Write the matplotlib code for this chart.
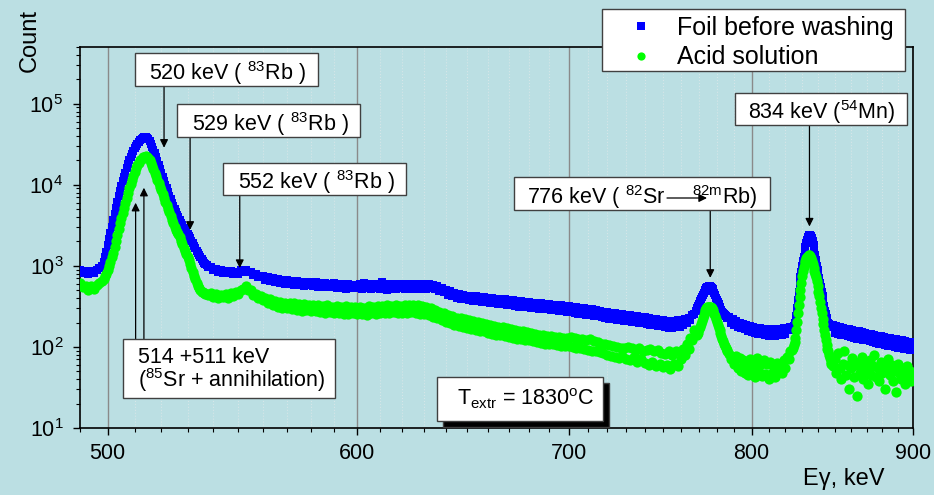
import numpy as np
import matplotlib
matplotlib.use('Agg')
import matplotlib.pyplot as plt
from matplotlib import ticker
from matplotlib.patches import Rectangle, FancyArrowPatch

plt.rcParams['font.family'] = ['Liberation Sans', 'DejaVu Sans']
plt.rcParams['mathtext.fontset'] = 'custom'
plt.rcParams['mathtext.rm'] = 'Liberation Sans'
plt.rcParams['mathtext.it'] = 'Liberation Sans:italic'
plt.rcParams['mathtext.bf'] = 'Liberation Sans:bold'

# gamma spectrum, counts
# 1 keV steps on the flat parts, 0.5 keV steps across the peaks
e_a = np.arange(490, 498)            # 490-497
e_b = np.arange(498, 538.5, 0.5)     # 498-538  (514 keV peak)
e_c = np.arange(539, 768)            # 539-767
e_d = np.arange(768, 786.5, 0.5)     # 768-786  (776 keV peak)
e_e = np.arange(787, 824)            # 787-823
e_f = np.arange(824, 848.5, 0.5)     # 824-848  (834 keV peak)
e_g = np.arange(849, 901)            # 849-900

foil_a = [890, 810, 865, 800, 870, 810, 880, 930]
foil_b = [
    1000, 1100, 1300, 1500, 1800, 2150, 2550, 3050, 3650, 4350,
    5200, 6100, 7200, 8400, 9700, 11000, 12500, 14000, 16000, 18000,
    20000, 22000, 24000, 26000, 28000, 30000, 32000, 34000, 35500, 37000,
    38000, 38500, 38500, 38000, 36500, 34500, 32000, 29500, 27000, 24500,
    22000, 19500, 17500, 15500, 14000, 12500, 11200, 10000, 9000, 8100,
    7300, 6600, 6000, 5450, 5000, 4600, 4250, 3950, 3650, 3400,
    3150, 2950, 2780, 2620, 2470, 2320, 2180, 2040, 1900, 1770,
    1650, 1540, 1440, 1350, 1270, 1200, 1140, 1090, 1050, 1010,
    980]
foil_c = [
    980, 900, 920, 850, 895, 820, 875, 810, 855, 790, 840,      # 539-549
    800, 880, 830, 900, 830, 840, 770, 790, 720, 745,           # 550-559
    740, 670, 720, 650, 700, 625, 685, 615, 670, 605,
    670, 595, 655, 585, 645, 575, 640, 570, 630, 580,
    640, 565, 625, 555, 620, 550, 615, 545, 605, 555,
    610, 540, 600, 530, 595, 525, 590, 540, 560, 585,
    530, 595, 520, 615, 535, 600, 515, 590, 530, 595,           # 600-609
    520, 625, 535, 510, 595, 525, 600, 520, 590, 530,
    600, 520, 595, 530, 605, 525, 590, 520, 600, 535,
    595, 525, 590, 530, 580, 515, 565, 490, 535, 470,
    505, 440, 485, 425, 465, 405, 450, 390, 440, 385,
    430, 375, 425, 370, 420, 365, 415, 360, 410, 355,           # 650-659
    405, 350, 400, 345, 395, 340, 390, 335, 385, 330,
    380, 325, 375, 320, 370, 315, 365, 312, 360, 308,
    358, 305, 352, 300, 348, 296, 344, 292, 340, 290,
    335, 286, 332, 282, 328, 278, 325, 275, 320, 272,
    318, 268, 314, 264, 310, 258, 305, 255, 300, 250,           # 700-709
    295, 246, 290, 242, 282, 238, 276, 232, 270, 228,
    268, 224, 264, 220, 260, 217, 256, 214, 253, 211,
    250, 208, 246, 205, 242, 202, 238, 198, 235, 195,
    232, 192, 228, 188, 224, 185, 220, 182, 216, 180,
    212, 176, 210, 172, 208, 170, 210, 174, 212, 178,           # 750-759
    215, 185, 220, 195, 228, 215, 245, 255]                     # 760-767
foil_d = [
    275, 285, 300, 320, 340, 365, 390, 415, 440, 465,
    490, 510, 530, 545, 555, 560, 560, 555, 540, 520,
    495, 465, 435, 405, 380, 355, 335, 315, 300, 285,
    272, 262, 252, 245, 238, 232, 226]
foil_e = [
    235, 200, 220, 188, 208, 178, 198, 170, 192, 165,
    186, 158, 180, 152, 176, 148, 172, 145, 170, 143,
    168, 140, 166, 138, 165, 137, 164, 138, 166, 140,
    168, 142, 170, 146, 172, 160, 178]
foil_f = [
    172, 175, 180, 188, 200, 240, 300, 380, 480, 590,
    720, 850, 1000, 1150, 1300, 1500, 1700, 1900, 2100, 2250,
    2350, 2420, 2400, 2320, 2200, 2000, 1800, 1570, 1350, 1170,
    1000, 900, 800, 710, 620, 550, 480, 420, 370, 320,
    280, 255, 230, 215, 200, 192, 185, 180, 175]
foil_g = [
    185, 150, 180, 146, 176, 142, 172, 139, 168, 136,
    165, 133, 162, 130, 158, 127, 155, 124, 152, 122,
    149, 120, 146, 118, 143, 115, 140, 113, 137, 110,
    135, 108, 132, 106, 130, 104, 128, 102, 126, 100,
    124, 98, 122, 96, 120, 95, 118, 94, 116, 92,
    114, 96]

acid_a = [620, 555, 560, 505, 565, 515, 585, 620]
acid_b = [
    650, 690, 740, 800, 880, 990, 1120, 1280, 1450, 1700,
    2000, 2400, 2850, 3350, 3900, 4500, 5200, 6000, 6900, 7900,
    9000, 10200, 11500, 12900, 14400, 15900, 17400, 18800, 20000, 21000,
    21800, 22300, 22500, 22200, 21300, 20000, 18700, 17100, 15500, 14000,
    12700, 11600, 10500, 9500, 8600, 7700, 6900, 6200, 5600, 5050,
    4550, 4100, 3700, 3350, 3050, 2800, 2600, 2450, 2250, 2050,
    1850, 1680, 1530, 1400, 1290, 1170, 1050, 940, 840, 760,
    680, 620, 570, 530, 500, 480, 470, 460, 450, 445,
    440]
acid_c = [
    460, 410, 450, 400, 440, 415, 455, 405, 460, 420, 470,      # 539-549
    455, 510, 520, 560, 500, 505, 440, 450, 400, 420,           # 550-559
    375, 400, 350, 385, 330, 365, 315, 355, 305, 345,
    300, 350, 290, 345, 285, 340, 280, 335, 285, 330,
    280, 325, 275, 330, 270, 320, 265, 325, 270, 315,
    265, 320, 262, 315, 258, 318, 255, 312, 260, 310,
    255, 315, 258, 305, 250, 320, 260, 310, 255, 320,           # 600-609
    262, 318, 265, 325, 260, 320, 268, 330, 262, 322,
    265, 330, 260, 325, 268, 332, 262, 326, 258, 320,
    255, 312, 245, 300, 235, 285, 225, 270, 215, 260,
    205, 245, 195, 238, 188, 230, 182, 225, 178, 218,
    172, 212, 168, 208, 163, 202, 158, 198, 155, 192,           # 650-659
    150, 188, 146, 183, 142, 178, 139, 174, 136, 170,
    133, 166, 130, 162, 127, 158, 124, 155, 122, 151,
    120, 148, 117, 145, 115, 142, 112, 140, 110, 137,
    110, 136, 108, 134, 106, 132, 104, 130, 102, 128,
    102, 132, 100, 128, 98, 126, 96, 124, 94, 120,              # 700-709
    92, 124, 90, 118, 88, 114, 86, 110, 84, 108,
    80, 106, 78, 104, 76, 100, 74, 98, 78, 96,
    70, 100, 68, 96, 75, 92, 66, 98, 70, 90,
    64, 92, 60, 95, 66, 88, 58, 92, 62, 85,
    56, 82, 60, 88, 54, 80, 62, 90, 58, 86,                     # 750-759
    70, 95, 80, 110, 95, 130, 120, 160]                         # 760-767
acid_d = [
    150, 140, 158, 150, 165, 178, 192, 210, 230, 250,
    270, 287, 298, 307, 312, 315, 315, 310, 300, 288,
    272, 255, 238, 220, 203, 188, 173, 160, 148, 137,
    127, 118, 110, 103, 97, 92, 88]
acid_e = [
    82, 70, 75, 62, 78, 55, 72, 50, 68, 48,
    62, 45, 70, 52, 65, 42, 72, 50, 60, 44,
    68, 46, 62, 40, 66, 48, 58, 42, 64, 50,
    60, 48, 68, 55, 75, 70, 90]
acid_f = [
    92, 98, 105, 115, 130, 160, 205, 260, 330, 410,
    510, 620, 740, 860, 970, 1070, 1160, 1240, 1300, 1340,
    1360, 1350, 1310, 1240, 1150, 1050, 950, 870, 800, 720,
    650, 560, 480, 420, 360, 305, 260, 220, 190, 160,
    140, 120, 105, 95, 88, 80, 72, 66, 62]
acid_g = [
    58, 70, 48, 85, 55, 40, 62, 90, 45, 60,
    30, 55, 72, 42, 65, 25, 58, 48, 75, 40,
    62, 50, 35, 68, 45, 58, 80, 42, 55, 38,
    65, 48, 58, 30, 52, 70, 45, 60, 38, 55,
    28, 62, 48, 40, 55, 45, 35, 58, 42, 50,
    38, 45]

energy = np.concatenate([e_a, e_b, e_c, e_d, e_e, e_f, e_g])
foil = np.concatenate([foil_a, foil_b, foil_c, foil_d, foil_e, foil_f, foil_g])
acid = np.concatenate([acid_a, acid_b, acid_c, acid_d, acid_e, acid_f, acid_g])

# peak markers: energy where the arrow sits, count at the arrow tip
peak_e = [521, 531, 550.6, 776.2, 834.5]
peak_tip = [28600, 2780, 940, 711, 3055]
sr_e = [510.3, 513.4]
sr_tip = [6000, 9190]

W, H = 934, 495
bg = '#bbdfe3'

fig = plt.figure(figsize=(W / 100, H / 100), dpi=100, facecolor=bg)
ax = fig.add_axes([80 / W, (H - 428) / H, 833 / W, 381 / H])
ax.set_facecolor(bg)
ax.set_xscale('log')
ax.set_yscale('log')

ax.plot(energy, foil, ls='none', marker='s', ms=6.4, mew=0, color='#0000ff',
        label='Foil before washing', zorder=3)
ax.plot(energy, acid, ls='none', marker='o', ms=7.4, mew=0, color='#00ff00',
        label='Acid solution', zorder=4)

ax.set_xlim(490, 900)
ax.set_ylim(10, 5e5)

ax.xaxis.set_major_locator(ticker.FixedLocator([500, 600, 700, 800, 900]))
ax.xaxis.set_major_formatter(ticker.FuncFormatter(lambda v, p: f'{v:.0f}'))
ax.xaxis.set_minor_locator(ticker.FixedLocator(np.arange(490, 901, 10)))
ax.xaxis.set_minor_formatter(ticker.NullFormatter())
ax.yaxis.set_major_locator(ticker.LogLocator(base=10, numticks=10))
ax.yaxis.set_minor_locator(ticker.LogLocator(base=10, subs=np.arange(2, 10), numticks=10))
ax.yaxis.set_minor_formatter(ticker.NullFormatter())
ax.tick_params(which='major', direction='out', length=5, width=1, labelsize=15.5)
ax.tick_params(which='minor', direction='out', length=3, width=0.8)
ax.tick_params(axis='x', pad=6)
ax.tick_params(axis='y', pad=7)

ax.set_axisbelow(True)
ax.grid(True, axis='x', which='major', color='#8a8a8a', lw=1)
ax.grid(True, axis='x', which='minor', color='#d6e6e8', ls=':', lw=0.8)
for s in ax.spines.values():
    s.set_linewidth(1.2)
    s.set_color('black')

ax.set_ylabel('Count', fontsize=17, va='center')
ax.yaxis.set_label_coords((30 - 80) / 833, (428 - 41) / 381)
ax.set_xlabel('E\u03b3, keV', fontsize=17, va='center')
ax.xaxis.set_label_coords((844 - 80) / 833, (428 - 479) / 381)


def fxy(px, py):
    return px / W, 1 - py / H


def box(x0, y0, x1, y1, fc='white', z=5):
    r = Rectangle(fxy(x0, y1), (x1 - x0) / W, (y1 - y0) / H, transform=fig.transFigure,
                  fc=fc, ec='#404040', lw=1, zorder=z)
    fig.add_artist(r)


def label(px, py, s, ha='left'):
    fig.text(*fxy(px, py), s, ha=ha, va='baseline', fontsize=15.5, zorder=6)


# legend: frame drawn as a box, entries placed inside it
box(602, 9, 905, 71, z=4)
leg = fig.legend(loc='upper left', bbox_to_anchor=fxy(616, 16), fontsize=18,
                 frameon=False, borderpad=0, borderaxespad=0, labelspacing=0.22,
                 handlelength=2.0, handletextpad=0.44, markerscale=0.8)
leg.set_zorder(6)

arrow_kw = dict(arrowstyle='-|>', color='black', lw=0.9, shrinkA=0, shrinkB=0,
                mutation_scale=12)

# arrows from the label boxes down to the peaks
starts = [87, 138, 196, 211, 126]
for e, tip, sy in zip(peak_e, peak_tip, starts):
    ax.annotate('', xy=(e, tip), xycoords='data', xytext=(e, (428 - sy) / 381),
                textcoords=('data', 'axes fraction'), arrowprops=arrow_kw)
for e, tip in zip(sr_e, sr_tip):
    ax.annotate('', xy=(e, tip), xycoords='data', xytext=(e, (428 - 340) / 381),
                textcoords=('data', 'axes fraction'), arrowprops=arrow_kw)

box(135, 53, 318, 86)
label(149, 80, r'520 keV ( $^{\mathrm{83}}$Rb )')
box(177, 104, 360, 137)
label(192, 131, r'529 keV ( $^{\mathrm{83}}$Rb )')
box(223, 163, 406, 195)
label(238, 189, r'552 keV ( $^{\mathrm{83}}$Rb )')
box(123, 339, 335, 398)
label(138, 363, '514 +511 keV')
label(138, 387, r'($^{\mathrm{85}}$Sr + annihilation)')
box(735, 93, 907, 125)
label(748, 119, r'834 keV ($^{\mathrm{54}}$Mn)')
box(514, 177, 770, 210)
label(527, 204, r'776 keV ( $^{\mathrm{82}}$Sr')
label(757, 204, r'$^{\mathrm{82m}}$Rb)', ha='right')
fig.add_artist(FancyArrowPatch(fxy(667, 198), fxy(707, 198), transform=fig.transFigure,
                               zorder=7, **arrow_kw))

# temperature box with its black shadow
box(443, 383, 609, 427, fc='black', z=4)
box(437, 377, 603, 421)
label(457, 405, r'T$_{\mathrm{extr}}$ = 1830$^{\mathrm{o}}$C')

fig.savefig('out.png', dpi=100, facecolor=bg)
